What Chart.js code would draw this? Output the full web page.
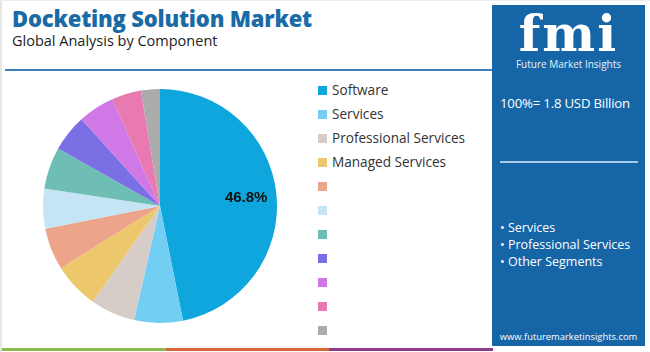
<!DOCTYPE html>
<html>
<head>
<meta charset="utf-8">
<script src="https://cdn.jsdelivr.net/npm/chart.js@4"></script>
<style>
  html, body { margin:0; padding:0; background:#fff; }
  #wrap { position:relative; width:650px; height:352px; overflow:hidden; font-family:"Open Sans", "Noto Sans", sans-serif; }
  #bl { position:absolute; left:0; top:0; width:2px; height:352px; background:#e6e6e6; }
  #bt { position:absolute; left:0; top:0; width:650px; height:1px; background:#ececec; }
  #title { position:absolute; left:12px; top:3px; font-size:22px; font-weight:800; color:#1a6aa6; letter-spacing:-0.2px; white-space:nowrap; }
  #subtitle { position:absolute; left:12px; top:31px; font-size:14.5px; color:#222; white-space:nowrap; }
  #rule { position:absolute; left:5px; top:69px; width:490px; height:2px; background:#3d80bf; }
  #pieBox { position:absolute; left:43px; top:89px; width:234px; height:234px; }
  #legend { position:absolute; left:316px; top:78px; }
  .lg { position:absolute; left:0; height:24px; white-space:nowrap; font-size:13.6px; color:#333; }
  .lg i { position:absolute; left:2px; top:8px; width:9px; height:9px; }
  .lg span { position:absolute; left:16px; top:2px; }
  #panel { position:absolute; left:492px; top:5px; width:153px; height:341px; background:#1565a7; color:#fff; }
  #logo { position:absolute; left:0; width:153px; top:-1px; text-align:center; font-family:"DejaVu Serif", serif; font-weight:bold; font-size:50px; letter-spacing:2px; color:#fff; }
  #logosub { position:absolute; left:0; width:153px; top:52px; text-align:center; font-size:10px; color:#eaf2fb; }
  #total { position:absolute; left:8px; top:89px; font-size:13.2px; letter-spacing:-0.2px; white-space:nowrap; }
  #pline { position:absolute; left:8px; top:156px; width:138px; height:1.5px; background:#a9c9e8; }
  #bullets { position:absolute; left:8px; top:214px; font-size:12.5px; line-height:17px; white-space:nowrap; }
  #url { position:absolute; left:0; width:153px; top:325px; text-align:center; font-size:9.4px; white-space:nowrap; }
  .stripe { position:absolute; top:348px; height:3px; }
</style>
</head>
<body>
<div id="wrap">
  <div id="bl"></div><div id="bt"></div>
  <div id="title">Docketing Solution Market</div>
  <div id="subtitle">Global Analysis by Component</div>
  <div id="rule"></div>
  <div id="pieBox"><canvas id="c"></canvas></div>
  <div id="legend"></div>
  <div id="panel">
    <div id="logo">fmi</div>
    <div id="logosub">Future Market Insights</div>
    <div id="total">100%= 1.8 USD Billion</div>
    <div id="pline"></div>
    <div id="bullets">• Services<br>• Professional Services<br>• Other Segments</div>
    <div id="url">www.futuremarketinsights.com</div>
  </div>
  <div class="stripe" style="left:2px;width:164px;background:#8cbb4c"></div>
  <div class="stripe" style="left:166px;width:163px;background:#d9663b"></div>
  <div class="stripe" style="left:329px;width:164px;background:#8c3b8f"></div>
</div>
<script>
const categories = ["Software", "Services", "Professional Services", "Managed Services", "", "", "", "", "", "", ""];
const shares = [46.8, 6.7, 6.2, 6.3, 5.8, 5.5, 5.8, 5.1, 5.0, 4.1, 2.6];
const sliceColors = ["#0ea6dd", "#72cef3", "#d6cdc9", "#ecc76b", "#eca58b", "#c6e5f4", "#6fbeb5", "#7b6fe6", "#d078e6", "#e879b1", "#ababab"];
const shownLabels = ["46.8%"];

const legend = document.getElementById('legend');
categories.forEach((name, i) => {
  const d = document.createElement('div');
  d.className = 'lg';
  d.style.top = (i * 24) + 'px';
  d.innerHTML = '<i style="background:' + sliceColors[i] + '"></i><span>' + name + '</span>';
  legend.appendChild(d);
});

const labelPlugin = {
  id: 'sliceLabel',
  afterDatasetsDraw(chart) {
    const ctx = chart.ctx;
    const meta = chart.getDatasetMeta(0);
    shownLabels.forEach((txt, i) => {
      const arc = meta.data[i];
      const p = arc.getProps(['x', 'y', 'startAngle', 'endAngle', 'outerRadius']);
      const mid = (p.startAngle + p.endAngle) / 2;
      const r = p.outerRadius * 0.74;
      ctx.save();
      ctx.font = 'bold 15px "Liberation Sans", Arial, sans-serif';
      ctx.fillStyle = '#111';
      ctx.textAlign = 'center';
      ctx.textBaseline = 'middle';
      ctx.fillText(txt, p.x + Math.cos(mid) * r, p.y + Math.sin(mid) * r);
      ctx.restore();
    });
  }
};

new Chart(document.getElementById('c'), {
  type: 'pie',
  data: {
    labels: categories,
    datasets: [{ data: shares, backgroundColor: sliceColors, borderWidth: 0 }]
  },
  options: {
    responsive: true,
    maintainAspectRatio: false,
    animation: false,
    layout: { padding: 0 },
    plugins: { legend: { display: false }, tooltip: { enabled: false } }
  },
  plugins: [labelPlugin]
});
</script>
</body>
</html>
